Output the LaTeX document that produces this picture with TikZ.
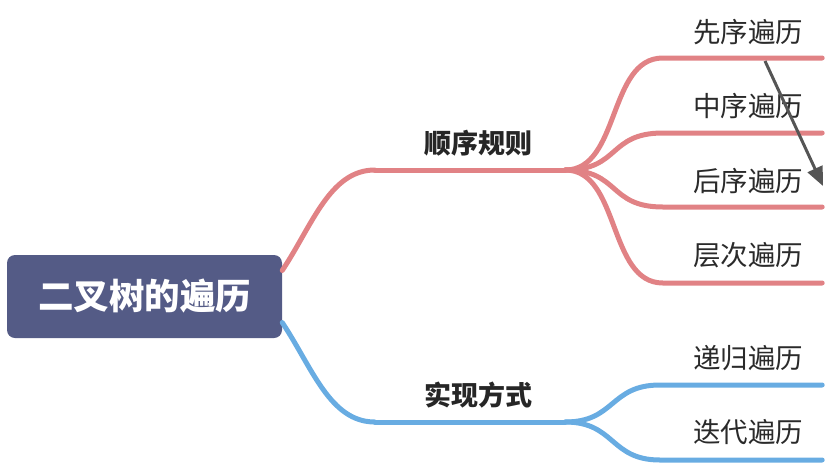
\documentclass[tikz,border=0pt]{standalone}
\usepackage{fontspec}
\newfontfamily\cjk{Noto Sans CJK SC}
\usetikzlibrary{arrows.meta}
\definecolor{rootfill}{HTML}{545B86}
\definecolor{ordpink}{HTML}{E18285}
\definecolor{wayblue}{HTML}{68ACE2}
\definecolor{darktext}{HTML}{2A2A2A}
\definecolor{arrowgray}{HTML}{555555}

\begin{document}
\begin{tikzpicture}[x=1pt,y=-1pt,
        branch/.style={line width=5pt,line cap=round},
        ordline/.style={branch,draw=ordpink},
        wayline/.style={branch,draw=wayblue},
        bar/.style={inner sep=0pt,minimum height=0pt,minimum width=#1},
        roottag/.style={fill=rootfill,rounded corners=8pt,text=white,
            font=\cjk\bfseries\fontsize{35.5}{40}\selectfont,
            minimum width=275pt,minimum height=83pt,inner sep=0pt},
        midtag/.style={font=\cjk\bfseries\fontsize{27}{30}\selectfont,text=black!85,inner sep=0pt},
        tag/.style={font=\cjk\fontsize{27.5}{30}\selectfont,text=darktext,inner sep=0pt}
    ]
            \useasboundingbox (0,0) rectangle (828,464);

            % root
            \node[roottag] (root) at (144.5,296.5) {二叉树的遍历};

            % first level
            \node[bar=190pt] (ord) at (470,170) {};
            \node[bar=190pt] (way) at (470,422) {};
            \node[midtag] (ordtxt) at (478,143) {顺序规则};
            \node[midtag] (waytxt) at (478,395) {实现方式};

            % leaves
            \node[bar=159pt] (pre) at (742.5,58) {};
            \node[bar=159pt] (ino) at (742.5,133) {};
            \node[bar=159pt] (post) at (742.5,207) {};
            \node[bar=159pt] (lvl) at (742.5,283) {};
            \node[bar=162pt] (rec) at (741,385) {};
            \node[bar=162pt] (itr) at (741,460) {};
            \node[tag] (pretxt) at (748,32) {先序遍历};
            \node[tag] (inotxt) at (748,106) {中序遍历};
            \node[tag] (posttxt) at (748,181) {后序遍历};
            \node[tag] (lvltxt) at (748,255) {层次遍历};
            \node[tag] (rectxt) at (748,358) {递归遍历};
            \node[tag] (itrtxt) at (748,432) {迭代遍历};

            % pink branch
            \draw[ordline] ([yshift=26pt]root.east) .. controls +(30,-45) and +(-45,0) .. (ord.west);
            \draw[ordline] (ord.west) -- (ord.east);
            \draw[ordline] (ord.east) .. controls +(55,0) and +(-55,0) .. (pre.west) -- (pre.east);
            \draw[ordline] (ord.east) .. controls +(55,0) and +(-55,0) .. (ino.west) -- (ino.east);
            \draw[ordline] (ord.east) .. controls +(55,0) and +(-55,0) .. (post.west) -- (post.east);
            \draw[ordline] (ord.east) .. controls +(55,0) and +(-55,0) .. (lvl.west) -- (lvl.east);

            % blue branch
            \draw[wayline] ([yshift=-26pt]root.east) .. controls +(30,45) and +(-45,0) .. (way.west);
            \draw[wayline] (way.west) -- (way.east);
            \draw[wayline] (way.east) .. controls +(50,0) and +(-50,0) .. (rec.west) -- (rec.east);
            \draw[wayline] (way.east) .. controls +(50,0) and +(-50,0) .. (itr.west) -- (itr.east);

            % order arrow
            \coordinate (arrs) at (765,61);
            \coordinate (arre) at (823,186);
            \draw[arrowgray,line width=3pt,-{Triangle[length=19pt,width=16pt]}] (arrs) -- (arre);
\end{tikzpicture}
\end{document}
